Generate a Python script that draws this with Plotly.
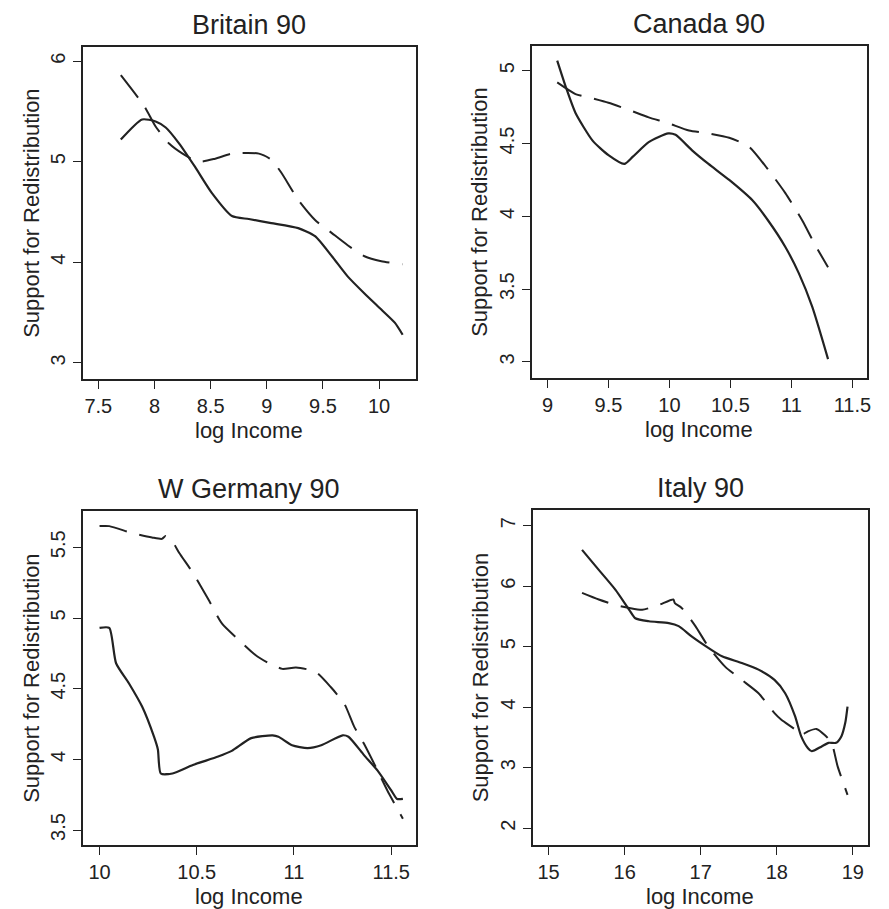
import plotly.graph_objects as go

# ---------------- data ----------------
britain_solid_x = [7.70, 7.89, 8.01, 8.10, 8.22, 8.36, 8.51, 8.69, 8.84, 9.04, 9.28, 9.43, 9.58, 9.72, 9.87, 10.02, 10.14, 10.21]
britain_solid_y = [5.22, 5.42, 5.40, 5.34, 5.18, 4.95, 4.69, 4.46, 4.43, 4.39, 4.34, 4.26, 4.06, 3.86, 3.69, 3.53, 3.40, 3.28]
britain_dash_x = [7.70, 7.91, 8.01, 8.13, 8.25, 8.39, 8.54, 8.69, 8.93, 9.04, 9.13, 9.28, 9.43, 9.58, 9.72, 9.87, 10.02, 10.21]
britain_dash_y = [5.86, 5.55, 5.35, 5.18, 5.08, 5.00, 5.03, 5.08, 5.08, 5.02, 4.89, 4.62, 4.42, 4.29, 4.17, 4.06, 4.01, 3.98]

canada_solid_x = [9.08, 9.15, 9.23, 9.37, 9.50, 9.63, 9.70, 9.83, 9.99, 10.05, 10.19, 10.32, 10.49, 10.68, 10.81, 10.95, 11.06, 11.17, 11.30]
canada_solid_y = [5.07, 4.89, 4.71, 4.52, 4.42, 4.36, 4.41, 4.51, 4.57, 4.56, 4.45, 4.36, 4.25, 4.11, 3.97, 3.79, 3.61, 3.38, 3.02]
canada_dash_x = [9.08, 9.23, 9.37, 9.50, 9.67, 9.83, 9.99, 10.16, 10.32, 10.49, 10.65, 10.81, 10.95, 11.09, 11.19, 11.30]
canada_dash_y = [4.92, 4.84, 4.81, 4.78, 4.73, 4.68, 4.64, 4.59, 4.57, 4.54, 4.48, 4.32, 4.16, 3.97, 3.81, 3.65]

germany_solid_x = [10.00, 10.05, 10.085, 10.15, 10.22, 10.28, 10.30, 10.315, 10.375, 10.48, 10.61, 10.68, 10.78, 10.89, 10.92, 10.99, 11.07, 11.14, 11.25, 11.28, 11.36, 11.43, 11.50, 11.53, 11.56]
germany_solid_y = [4.93, 4.93, 4.68, 4.54, 4.37, 4.16, 4.07, 3.90, 3.90, 3.96, 4.02, 4.06, 4.15, 4.17, 4.16, 4.10, 4.08, 4.10, 4.17, 4.16, 4.03, 3.92, 3.78, 3.72, 3.72]
germany_dash_x = [10.00, 10.05, 10.17, 10.27, 10.32, 10.34, 10.375, 10.41, 10.48, 10.56, 10.63, 10.72, 10.80, 10.87, 10.94, 11.01, 11.11, 11.19, 11.26, 11.31, 11.36, 11.43, 11.48, 11.56]
germany_dash_y = [5.65, 5.65, 5.60, 5.57, 5.56, 5.58, 5.54, 5.46, 5.32, 5.13, 4.96, 4.84, 4.74, 4.68, 4.64, 4.65, 4.62, 4.51, 4.39, 4.23, 4.11, 3.92, 3.78, 3.58]

italy_solid_x = [15.44, 15.66, 15.88, 16.06, 16.14, 16.32, 16.58, 16.71, 16.88, 17.10, 17.28, 17.54, 17.76, 17.97, 18.11, 18.24, 18.32, 18.41, 18.46, 18.59, 18.68, 18.78, 18.85, 18.90, 18.93]
italy_solid_y = [6.60, 6.27, 5.94, 5.61, 5.47, 5.42, 5.39, 5.34, 5.17, 4.98, 4.84, 4.73, 4.62, 4.45, 4.23, 3.85, 3.52, 3.32, 3.27, 3.35, 3.41, 3.41, 3.52, 3.74, 4.01]
italy_dash_x = [15.44, 15.66, 15.88, 16.06, 16.23, 16.45, 16.64, 16.66, 16.75, 16.93, 17.10, 17.32, 17.54, 17.76, 17.97, 18.06, 18.24, 18.32, 18.41, 18.52, 18.63, 18.72, 18.80, 18.93]
italy_dash_y = [5.89, 5.78, 5.69, 5.64, 5.61, 5.69, 5.78, 5.72, 5.64, 5.34, 5.00, 4.67, 4.45, 4.23, 3.90, 3.79, 3.63, 3.54, 3.60, 3.64, 3.54, 3.41, 3.02, 2.55]

titles = ["Britain 90", "Canada 90", "W Germany 90", "Italy 90"]
x_label = "log Income"
y_label = "Support for Redistribution"

x_ticks = [[7.5, 8, 8.5, 9, 9.5, 10], [9, 9.5, 10, 10.5, 11, 11.5], [10, 10.5, 11, 11.5], [15, 16, 17, 18, 19]]
y_ticks = [[3, 4, 5, 6], [3, 3.5, 4, 4.5, 5], [3.5, 4, 4.5, 5, 5.5], [2, 3, 4, 5, 6, 7]]
x_ranges = [[7.36, 10.33], [8.87, 11.62], [9.913, 11.628], [14.79, 19.2]]
y_ranges = [[2.84, 6.14], [2.89, 5.17], [3.394, 5.757], [1.72, 7.26]]

# ---------------- layout geometry ----------------
W, H = 889, 909
boxes = [  # left, right, top, bottom in pixels
    (83, 418, 47, 379),
    (534, 871, 46, 378),
    (83, 418, 511, 845),
    (535, 872, 510, 845),
]

INK = "#222222"
FONT = "Liberation Sans, Arial, Helvetica, sans-serif"

series = [
    (britain_solid_x, britain_solid_y, britain_dash_x, britain_dash_y),
    (canada_solid_x, canada_solid_y, canada_dash_x, canada_dash_y),
    (germany_solid_x, germany_solid_y, germany_dash_x, germany_dash_y),
    (italy_solid_x, italy_solid_y, italy_dash_x, italy_dash_y),
]

fig = go.Figure()
layout = dict(
    width=W, height=H,
    margin=dict(l=0, r=0, t=0, b=0),
    paper_bgcolor="white", plot_bgcolor="white",
    showlegend=False,
    font=dict(family=FONT, color=INK),
    annotations=[],
)

for i, (sx, sy, dx, dy) in enumerate(series):
    n = "" if i == 0 else str(i + 1)
    xa, ya = "x" + n, "y" + n
    fig.add_trace(go.Scatter(x=sx, y=sy, mode="lines", xaxis=xa, yaxis=ya,
                             line=dict(color=INK, width=2.2, shape="spline", smoothing=0.6)))
    fig.add_trace(go.Scatter(x=dx, y=dy, mode="lines", xaxis=xa, yaxis=ya,
                             line=dict(color=INK, width=2, dash="28px,13px", shape="spline", smoothing=0.6)))
    l, r, t, b = boxes[i]
    layout["xaxis" + n] = dict(
        domain=[l / W, r / W], range=x_ranges[i], anchor=ya,
        tickvals=x_ticks[i], ticktext=[("%g" % v) for v in x_ticks[i]],
        ticks="outside", ticklen=8, tickwidth=1.4, tickcolor=INK,
        showline=True, linecolor=INK, linewidth=1.8, mirror=True,
        showgrid=False, zeroline=False,
        tickfont=dict(size=20, family=FONT, color=INK),
    )
    layout["yaxis" + n] = dict(
        domain=[1 - b / H, 1 - t / H], range=y_ranges[i], anchor=xa,
        tickvals=y_ticks[i], ticktext=[("%g" % v) for v in y_ticks[i]],
        tickangle=-90,
        ticks="outside", ticklen=8, tickwidth=1.4, tickcolor=INK,
        showline=True, linecolor=INK, linewidth=1.8, mirror=True,
        showgrid=False, zeroline=False,
        tickfont=dict(size=20, family=FONT, color=INK),
    )
    cx = (l + r) / 2
    # panel title
    layout["annotations"].append(dict(
        text=titles[i], x=cx / W, y=1 - (t - 22) / H, xref="paper", yref="paper",
        xanchor="center", yanchor="middle", showarrow=False,
        font=dict(size=27, family=FONT, color=INK)))
    # x axis label
    layout["annotations"].append(dict(
        text=x_label, x=cx / W, y=1 - (b + 51) / H, xref="paper", yref="paper",
        xanchor="center", yanchor="middle", showarrow=False,
        font=dict(size=22, family=FONT, color=INK)))
    # y axis label
    layout["annotations"].append(dict(
        text=y_label, x=(l - 52) / W, y=1 - ((t + b) / 2) / H, xref="paper", yref="paper",
        xanchor="center", yanchor="middle", showarrow=False, textangle=-90,
        font=dict(size=22, family=FONT, color=INK)))

fig.update_layout(**layout)
fig.write_html("out.html")
